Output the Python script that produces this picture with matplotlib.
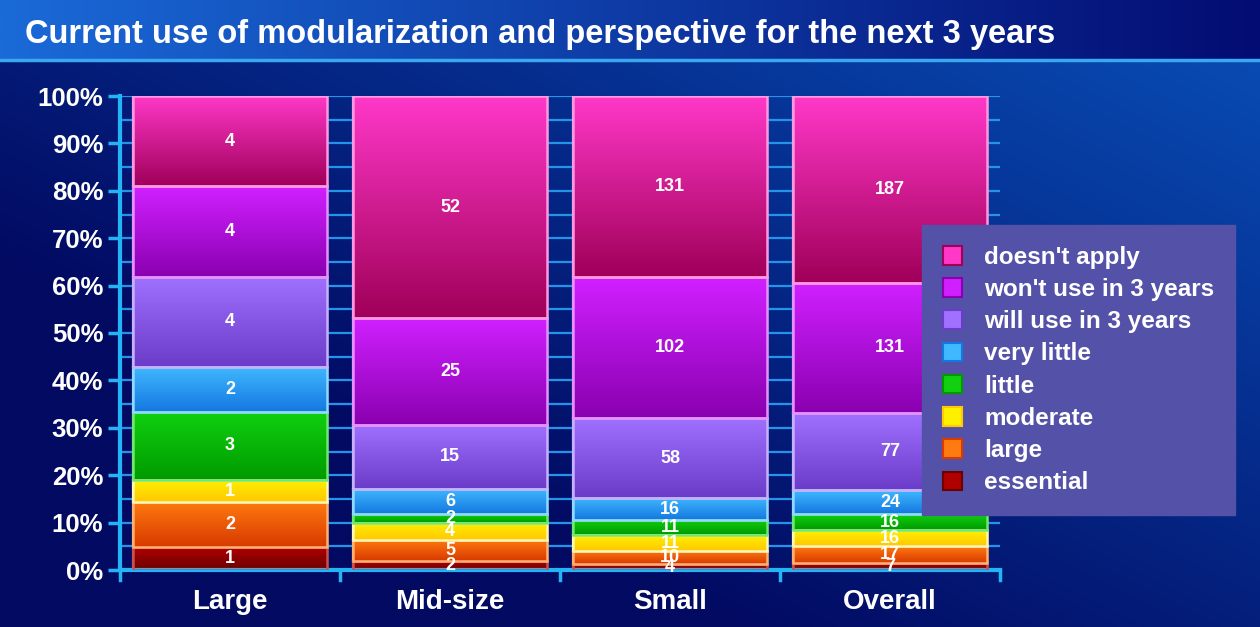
import matplotlib.pyplot as plt
import numpy as np
from matplotlib.colors import to_rgb
from matplotlib.patches import Rectangle

# categories and answer counts (bottom to top of each stack)
groups = ["Large", "Mid-size", "Small", "Overall"]
answers = ["essential", "large", "moderate", "little", "very little",
           "will use in 3 years", "won't use in 3 years", "doesn't apply"]
essential = [1, 2, 4, 7]
large = [2, 5, 10, 17]
moderate = [1, 4, 11, 16]
little = [3, 2, 11, 16]
very_little = [2, 6, 16, 24]
will_use = [4, 15, 58, 77]
wont_use = [4, 25, 102, 131]
doesnt_apply = [4, 52, 131, 187]

series = [essential, large, moderate, little, very_little, will_use, wont_use, doesnt_apply]

# top / bottom colour of each segment gradient, plus edge colour
shades = [("#b00000", "#6a0000", "#c85050"),
          ("#ff7a10", "#d83a00", "#ffb070"),
          ("#fff000", "#ffc800", "#fff8b0"),
          ("#10d010", "#009a00", "#70e870"),
          ("#40b8ff", "#1478e0", "#90d8ff"),
          ("#a070ff", "#6a3cc8", "#c8b0ff"),
          ("#d020ff", "#8a00b0", "#e890ff"),
          ("#ff38c8", "#a0005a", "#ff98e0")]

W, H = 1260, 627
fig = plt.figure(figsize=(W / 100, H / 100), dpi=100)

# background: dark navy fading to brighter blue at the bottom right
bg = fig.add_axes([0, 0, 1, 1])
bg.set_axis_off()
yy, xx = np.mgrid[0:1:200j, 0:1:400j]
t = np.clip(0.6 * xx + 0.6 * (1 - yy) - 0.35, 0, 1)
c0 = np.array(to_rgb("#020a62"))
c1 = np.array(to_rgb("#0a5cc8"))
bg.imshow(c0 + (c1 - c0) * t[..., None], extent=[0, 1, 0, 1], aspect="auto",
          origin="upper", interpolation="bilinear")
bg.set_xlim(0, 1)
bg.set_ylim(0, 1)

# title band
tb = 1 - 60 / H
tx = np.linspace(0, 1, 300)[None, :]
t0 = np.array(to_rgb("#1a6ad8"))
t1 = np.array(to_rgb("#030c72"))
band = t0 + (t1 - t0) * np.clip(tx, 0, 1)[..., None]
bg.imshow(band, extent=[0, 1, tb, 1], aspect="auto", interpolation="bilinear")
bg.axhline(tb, color="#3aa8f0", lw=2.5)
bg.text(25 / W, 1 - 34 / H, "Current use of modularization and perspective for the next 3 years",
        color="white", fontsize=23.5, fontweight="bold", family="Liberation Sans",
        ha="left", va="center")

ax = fig.add_axes([120 / W, 1 - 570 / H, 880 / W, 474 / H])
ax.patch.set_alpha(0)

axis_blue = "#22b4f4"
for v in np.arange(5, 101, 5):
    ax.axhline(v, color="#2494ea", lw=1.6, zorder=0)

x = np.arange(len(groups))
totals = np.sum(series, axis=0)
bottom = np.zeros(len(groups))
width = 0.88
for vals, (top_c, bot_c, edge_c) in zip(series, shades):
    share = np.array(vals) / totals * 100
    bars = ax.bar(x, share, width, bottom=bottom, color=bot_c, edgecolor=edge_c,
                  linewidth=1.6, zorder=2)
    ct, cb = np.array(to_rgb(top_c)), np.array(to_rgb(bot_c))
    grad = ct + (cb - ct) * np.linspace(0, 1, 64)[:, None, None]
    for b, n in zip(bars, vals):
        x0, y0 = b.get_x(), b.get_y()
        ax.imshow(grad, extent=[x0, x0 + b.get_width(), y0, y0 + b.get_height()],
                  aspect="auto", interpolation="bilinear", zorder=2.5)
        ax.add_patch(Rectangle((x0, y0), b.get_width(), b.get_height(), fill=False,
                               edgecolor=edge_c, lw=1.8, zorder=3))
        ax.text(b.get_x() + b.get_width() / 2, y0 + b.get_height() / 2, str(n),
                color="white", fontsize=13, fontweight="bold", family="Liberation Sans",
                ha="center", va="center", zorder=4)
    bottom += share
ax.set_xlim(-0.5, 3.5)
ax.set_ylim(0, 100)

for s in ["top", "right"]:
    ax.spines[s].set_visible(False)
for s in ["left", "bottom"]:
    ax.spines[s].set_color(axis_blue)
    ax.spines[s].set_linewidth(3)
ax.set_yticks(np.arange(0, 101, 10))
ax.set_yticklabels([f"{v}%" for v in range(0, 101, 10)])
ax.set_xticks(x)
ax.set_xticklabels(groups)
ax.tick_params(axis="y", colors=axis_blue, length=9, width=2.5, labelcolor="white",
               labelsize=18.5, pad=3)
ax.tick_params(axis="x", length=0, labelcolor="white", labelsize=20, pad=14)
for lab in ax.get_yticklabels() + ax.get_xticklabels():
    lab.set_fontweight("bold")
    lab.set_family("Liberation Sans")
for b in np.arange(-0.5, 3.6, 1):
    ax.plot([b, b], [0, -2.2], color=axis_blue, lw=2.5, clip_on=False, zorder=5)

# legend box
handles = [Rectangle((0, 0), 1, 1, facecolor=s[0], edgecolor=s[1], lw=1.5)
           for s in shades][::-1]
leg = fig.legend(handles, answers[::-1], loc="upper left",
                 bbox_to_anchor=(922 / W, 1 - 225 / H), frameon=True, fancybox=False,
                 facecolor="#5452a8", edgecolor="#5452a8", framealpha=1,
                 prop={"family": "Liberation Sans", "weight": "bold", "size": 17.5},
                 labelcolor="white", handlelength=0.8, handleheight=0.8,
                 handletextpad=0.9, labelspacing=0.38, borderpad=0.85,
                 borderaxespad=0)
leg.set_zorder(10)

fig.savefig("out.png", dpi=100)
